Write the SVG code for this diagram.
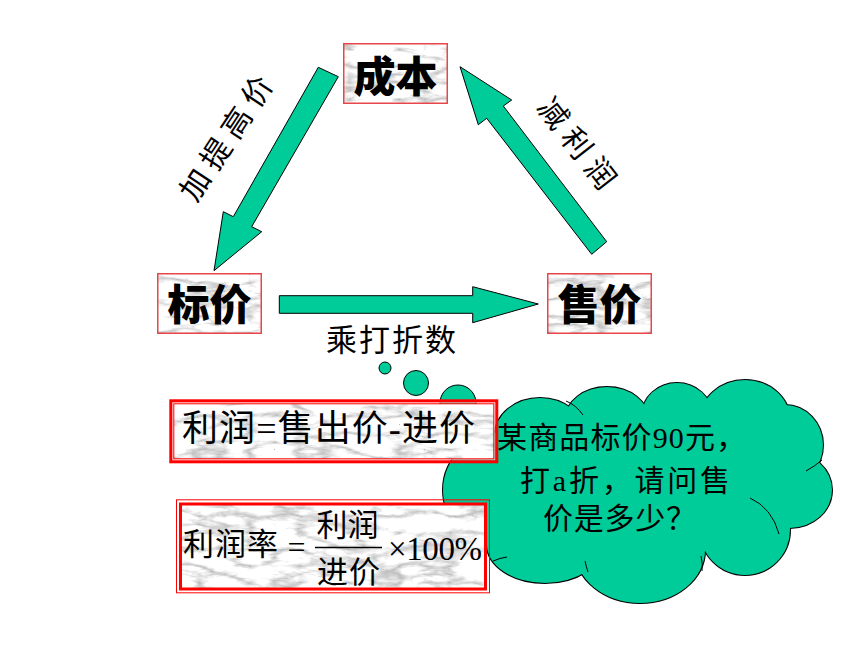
<svg xmlns="http://www.w3.org/2000/svg" width="860" height="645" viewBox="0 0 860 645">
<defs>
<style>
.arrow{fill:#00CC99;stroke:#000;stroke-width:1;stroke-linejoin:miter}
.frame{fill:none;stroke:#E8464B;stroke-width:1.5}
.marble{filter:url(#marble)}
.node-text{font-family:"Noto Sans CJK SC",sans-serif;font-weight:900;font-size:42px;fill:#000;text-anchor:middle}
.lbl{font-family:"Liberation Serif","Noto Sans CJK SC",serif;font-size:30px;fill:#000}
.f1{font-family:"Liberation Serif","Noto Sans CJK SC",serif;font-size:36px;fill:#000}
.f2{font-family:"Liberation Serif","Noto Sans CJK SC",serif;font-size:31px;fill:#000}
.ct{font-family:"Liberation Serif","Noto Sans CJK SC",serif;font-size:30px;fill:#000}
.red{fill:none;stroke:#FF0000}
.crease{fill:none;stroke:#000;stroke-width:1}
</style>
<filter id="marble" x="0" y="0" width="1" height="1" color-interpolation-filters="sRGB">
<feTurbulence type="turbulence" baseFrequency="0.02 0.06" numOctaves="4" seed="7"/>
<feColorMatrix type="matrix" values="0.9 0 0 0 0.72  0.9 0 0 0 0.72  0.9 0 0 0 0.72  0 0 0 0 1"/>
</filter>
<g id="cloudShape">
<ellipse cx="505" cy="490" rx="62" ry="58"/>
<ellipse cx="540" cy="435" rx="45" ry="37"/>
<ellipse cx="607" cy="420" rx="42" ry="33"/>
<ellipse cx="677" cy="415" rx="35" ry="32"/>
<ellipse cx="745" cy="420" rx="45" ry="40"/>
<ellipse cx="785" cy="445" rx="38" ry="40"/>
<ellipse cx="790" cy="490" rx="42" ry="38"/>
<ellipse cx="745" cy="530" rx="45" ry="45"/>
<ellipse cx="640" cy="550" rx="65" ry="53"/>
<ellipse cx="545" cy="545" rx="58" ry="38"/>
<ellipse cx="640" cy="480" rx="150" ry="75"/>
</g>
</defs>
<rect width="860" height="645" fill="#fff"/>

<g id="connectors">
<polygon class="arrow" points="318.3,67.3 338.3,76.7 251.7,226.7 261.7,231.7 214,270.7 223.3,211.7 233.3,216.7"/>
<polygon class="arrow" points="591.7,254.3 606.7,241.7 503.3,106 511.7,100 460,66.7 478.3,124.7 486.7,118.3"/>
<polygon class="arrow" points="279.3,295.7 472.7,295.7 472.7,286.7 538.3,304 472.7,322.7 472.7,313.3 279.3,313.3"/>
<text class="lbl" text-anchor="middle" transform="translate(226,138) rotate(-56.6)" y="11" textLength="142" lengthAdjust="spacing">加提高价</text>
<text class="lbl" text-anchor="middle" transform="translate(577,143) rotate(52)" y="11" textLength="106" lengthAdjust="spacing">减利润</text>
<text class="lbl" style="font-size:31px" x="326" y="351" textLength="130" lengthAdjust="spacing">乘打折数</text>
</g>

<g id="node-chengben">
<rect class="marble" x="343" y="43" width="105" height="61"/>
<rect class="frame" x="343.75" y="43.75" width="103.5" height="59.5"/>
<text class="node-text" x="395.5" y="91.5">成本</text>
</g>
<g id="node-biaojia">
<rect class="marble" x="157" y="273" width="105" height="61"/>
<rect class="frame" x="157.75" y="273.75" width="103.5" height="59.5"/>
<text class="node-text" x="209.5" y="320">标价</text>
</g>
<g id="node-shoujia">
<rect class="marble" x="547" y="273" width="105" height="61"/>
<rect class="frame" x="547.75" y="273.75" width="103.5" height="59.5"/>
<text class="node-text" x="599.5" y="320">售价</text>
</g>

<g id="callout">
<circle cx="385" cy="368" r="6" fill="#00CC99" stroke="#000"/>
<circle cx="416" cy="383" r="12.5" fill="#00CC99" stroke="#000"/>
<circle cx="458" cy="403" r="18" fill="#00CC99" stroke="#000"/>
<use href="#cloudShape" fill="#00CC99" stroke="#000" stroke-width="2"/>
<use href="#cloudShape" fill="#00CC99" stroke="none"/>
<path class="crease" d="M566,401 Q576,405 583,415"/>
<path class="crease" d="M750,498 Q772,508 779,534"/>
<path class="crease" d="M701,556 Q703,564 702,571"/>
<path class="crease" d="M585,561 Q586,566 588,572"/>
<path class="crease" d="M493,561 Q500,558 507,557"/>
<path class="crease" d="M806,471 Q815,466 822,460"/>
</g>

<g id="node-formula1">
<rect class="marble" x="174" y="404" width="320" height="55"/>
<rect x="172.8" y="402.8" width="322" height="57" fill="none" stroke="#FFD0D0" stroke-width="1"/>
<rect class="red" x="173.8" y="403.8" width="320" height="55" stroke-width="1"/>
<rect class="red" x="170.8" y="400.8" width="326" height="61" stroke-width="3"/>
<text class="f1" x="182" y="440.5" textLength="293" lengthAdjust="spacing">利润=售出价-进价</text>
</g>

<g id="node-formula2">
<rect class="marble" x="182" y="505.5" width="304" height="83.5"/>
<rect class="red" x="176.5" y="499.8" width="313" height="93" stroke-width="1"/>
<rect class="red" x="180.5" y="504" width="305" height="85" stroke-width="3"/>
<text class="f2" x="183" y="555" textLength="95" lengthAdjust="spacing">利润率</text>
<text class="f2" style="font-size:32px" x="296.5" y="558" text-anchor="middle">=</text>
<text class="f2" x="347.5" y="535.7" text-anchor="middle" textLength="62" lengthAdjust="spacing">利润</text>
<line x1="315" y1="547.5" x2="382" y2="547.5" stroke="#000" stroke-width="1.5"/>
<text class="f2" x="348.5" y="582.7" text-anchor="middle" textLength="63" lengthAdjust="spacing">进价</text>
<text class="f2" style="font-size:33px" x="388" y="560" textLength="94" lengthAdjust="spacing">×100%</text>
</g>

<g id="callout-text">
<text class="ct" x="497" y="448" textLength="249" lengthAdjust="spacing">某商品标价90元，</text>
<text class="ct" x="520" y="491" textLength="210" lengthAdjust="spacing">打a折，请问售</text>
<text class="ct" x="543" y="529" textLength="153" lengthAdjust="spacing">价是多少？</text>
</g>
</svg>
